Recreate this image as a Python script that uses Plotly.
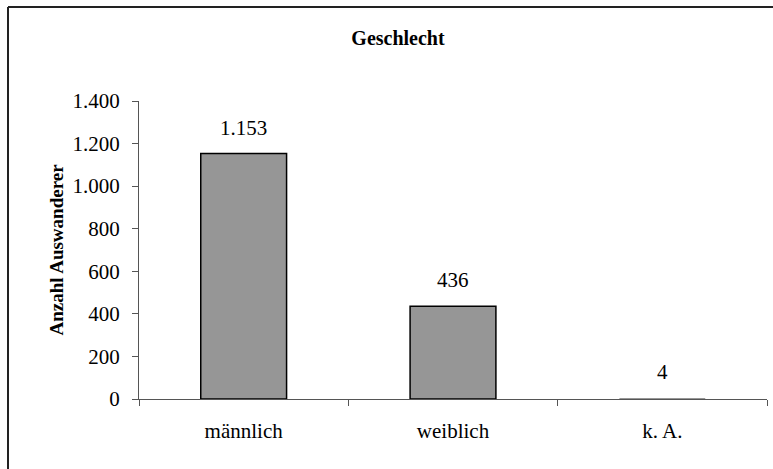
import plotly.graph_objects as go

# --- data ---
categories = ["männlich", "weiblich", "k. A."]
counts = [1153, 436, 4]
y_ticks = [0, 200, 400, 600, 800, 1000, 1200, 1400]

FONT = "Times New Roman, Liberation Serif, DejaVu Serif, serif"
BAR = "#969696"
AXIS = "#555555"
FRAME = "#222222"

fig = go.Figure(go.Bar(
    x=categories, y=counts, width=0.41,
    marker=dict(color=BAR,
                line=dict(color="#000000",
                          width=[1.5 if c > 20 else 0 for c in counts])),
    hoverinfo="x+y",
))

# value labels sit well above the bars, as in the original chart
for cat, val in zip(categories, counts):
    fig.add_annotation(x=cat, y=val, text=f"{val:,}".replace(",", "."),
                       showarrow=False, yshift=26, yanchor="middle",
                       font=dict(family=FONT, size=21, color="#000000"))

fig.update_layout(
    width=773, height=469,
    paper_bgcolor="white", plot_bgcolor="white",
    separators=",.",
    font=dict(family=FONT, size=21, color="#000000"),
    margin=dict(l=139, r=6, t=101, b=70, autoexpand=False),
    showlegend=False,
    title=dict(text="<b>Geschlecht</b>", x=398 / 773, xanchor="center",
               y=1 - 38 / 469, yanchor="middle",
               font=dict(family=FONT, size=20)),
)
fig.update_yaxes(
    range=[0, 1400], tickvals=y_ticks, tickformat=",d", automargin=False,
    showgrid=False, zeroline=False,
    showline=True, linecolor=AXIS, linewidth=1,
    ticks="outside", ticklen=6, tickcolor=AXIS, ticklabelstandoff=8,
    title=dict(text="<b>Anzahl Auswanderer</b>", standoff=3,
               font=dict(family=FONT, size=19)),
)
fig.update_xaxes(
    automargin=False,
    showgrid=False, showline=True, linecolor=AXIS, linewidth=1,
    ticks="outside", tickson="boundaries", ticklen=6, tickcolor=AXIS,
    ticklabelstandoff=13,
)

# chart frame (only left and top edges are visible in the crop)
fig.add_shape(type="line", xref="paper", yref="paper",
              x0=(8 - 139) / 628, x1=(8 - 139) / 628, y0=1.3154, y1=-0.3,
              line=dict(color=FRAME, width=2))
fig.add_shape(type="line", xref="paper", yref="paper",
              x0=(8 - 139) / 628, x1=1.1, y0=1.3154, y1=1.3154,
              line=dict(color=FRAME, width=2))

# drop the default page margin so figure pixels map 1:1 to the window
fig.write_html("out.html", config={"displayModeBar": False},
               post_script="document.body.style.margin='0';")
